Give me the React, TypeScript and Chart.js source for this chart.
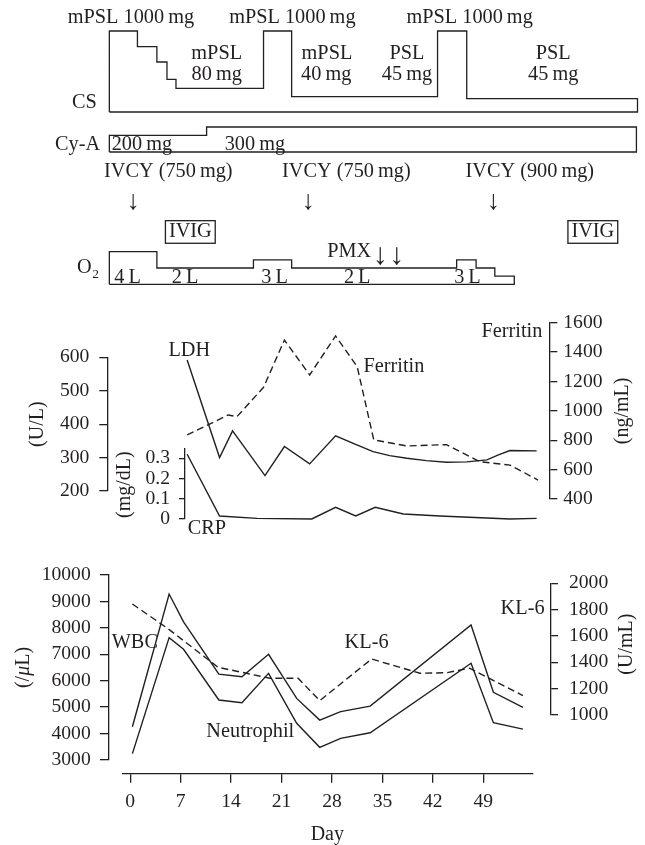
import React, { useEffect, useRef } from 'react';
import { Chart, registerables } from 'chart.js';

Chart.register(...registerables);

// ───────── x axis (days) ─────────
const dayTicks = [0, 7, 14, 21, 28, 35, 42, 49];

// ───────── treatment timeline (top) ─────────
// corticosteroid (CS): start day of each phase and schematic relative bar height
const csStartDays = [-2.9, 1.0, 3.7, 5.1, 6.35, 18.5, 22.4, 42.65, 46.7];
const csRelHeight = [81, 65.3, 50, 32.7, 23.7, 81, 15.3, 81, 13.3];
const csEndDay = 70.4;
// cyclosporin A
const cyaStartDays = [-2.9, 10.6];
const cyaDoseMg = [200, 300];
const cyaEndDay = 70.25;
// oxygen
const o2StartDays = [-2.9, 3.7, 17.1, 22.4, 45.3, 48.0, 50.6];
const o2FlowL = [4, 2, 3, 2, 3, 2, 1];
const o2EndDay = 53.3;

// ───────── LDH / Ferritin / CRP ─────────
const ldhDays = [7.9, 12.4, 14.2, 18.7, 21.4, 24.9, 28.5, 31.2, 33.7, 36.0, 38.4, 41.1, 43.9, 46.7, 49.5, 51.1, 52.7, 56.4];
const ldh = [592, 300, 380, 246, 333, 281, 365, 340, 318, 306, 298, 291, 286, 287, 293, 308, 321, 320];
const ferritinDays = [7.9, 13.6, 14.8, 18.5, 21.4, 24.9, 28.5, 31.5, 33.8, 38.4, 43.9, 48.5, 52.7, 56.6];
const ferritin = [836, 972, 960, 1160, 1482, 1244, 1510, 1300, 802, 761, 770, 654, 631, 529];
const crpDays = [7.9, 12.4, 17.6, 25.2, 28.5, 31.3, 34.0, 37.9, 43.0, 52.7, 56.4];
const crp = [0.32, 0.015, 0.003, 0, 0.058, 0.015, 0.058, 0.025, 0.015, 0, 0.003];

const ldhTicks = [200, 300, 400, 500, 600];
const crpTicks = [0, 0.1, 0.2, 0.3];
const ferritinTicks = [400, 600, 800, 1000, 1200, 1400, 1600];

// ───────── WBC / Neutrophil / KL-6 ─────────
const cellDays = [0.3, 5.4, 7.4, 12.3, 15.5, 19.2, 23.1, 26.3, 29.2, 33.3, 47.3, 50.4, 54.5];
const wbc = [4260, 9280, 8230, 6250, 6150, 7000, 5330, 4510, 4830, 5040, 8110, 5560, 4990];
const neutrophil = [3240, 7630, 7190, 5270, 5170, 6280, 4390, 3480, 3820, 4030, 6660, 4410, 4170];
const kl6Days = [0.3, 5.3, 12.2, 19.4, 23.3, 26.3, 33.5, 40.2, 43.9, 47.1, 54.5];
const kl6 = [1843, 1653, 1362, 1279, 1279, 1109, 1425, 1317, 1321, 1355, 1147];

const wbcTicks = [3000, 4000, 5000, 6000, 7000, 8000, 9000, 10000];
const kl6Ticks = [1000, 1200, 1400, 1600, 1800, 2000];

// ───────── annotations (text placed in data coordinates) ─────────
type Note = { text: string; day: number; at: number; axis: string; align?: CanvasTextAlign; boxed?: boolean; sub?: string; big?: number };
const T = '\u2009';
const notes: Note[] = [
  { text: `mPSL 1000${T}mg`, day: 0.1, at: 94.5, axis: 'yCS' },
  { text: `mPSL 1000${T}mg`, day: 22.5, at: 94.5, axis: 'yCS' },
  { text: `mPSL 1000${T}mg`, day: 47.1, at: 94.5, axis: 'yCS' },
  { text: 'mPSL', day: 12.0, at: 58.7, axis: 'yCS' },
  { text: `80${T}mg`, day: 12.0, at: 37.8, axis: 'yCS' },
  { text: 'mPSL', day: 27.3, at: 58.7, axis: 'yCS' },
  { text: `40${T}mg`, day: 27.2, at: 37.8, axis: 'yCS' },
  { text: 'PSL', day: 38.4, at: 58.7, axis: 'yCS' },
  { text: `45${T}mg`, day: 38.4, at: 37.8, axis: 'yCS' },
  { text: 'PSL', day: 58.7, at: 58.7, axis: 'yCS' },
  { text: `45${T}mg`, day: 58.7, at: 37.8, axis: 'yCS' },
  { text: 'CS', day: -4.65, at: 9, axis: 'yCS', align: 'right' },
  { text: 'Cy-A', day: -4.19, at: 84, axis: 'yCyA', align: 'right' },
  { text: `200${T}mg`, day: -2.57, at: 84, axis: 'yCyA', align: 'left' },
  { text: `300${T}mg`, day: 17.3, at: 84, axis: 'yCyA' },
  { text: `IVCY (750${T}mg)`, day: 5.28, at: 13.8, axis: 'yO2' },
  { text: `IVCY (750${T}mg)`, day: 30.0, at: 13.8, axis: 'yO2' },
  { text: `IVCY (900${T}mg)`, day: 55.45, at: 13.8, axis: 'yO2' },
  { text: '\u2193', day: 0.43, at: 10.1, axis: 'yO2', big: 27 },
  { text: '\u2193', day: 24.7, at: 10.1, axis: 'yO2', big: 27 },
  { text: '\u2193', day: 50.4, at: 10.1, axis: 'yO2', big: 27 },
  { text: 'IVIG', day: 8.34, at: 6.42, axis: 'yO2', boxed: true },
  { text: 'IVIG', day: 64.2, at: 6.42, axis: 'yO2', boxed: true },
  { text: 'PMX', day: 30.4, at: 4.0, axis: 'yO2' },
  { text: '\u2193', day: 34.7, at: 3.4, axis: 'yO2', big: 30 },
  { text: '\u2193', day: 37.0, at: 3.4, axis: 'yO2', big: 30 },
  { text: 'O', sub: '2', day: -4.42, at: 2.0, axis: 'yO2', align: 'right' },
  { text: `4${T}L`, day: -0.37, at: 0.8, axis: 'yO2' },
  { text: `2${T}L`, day: 7.6, at: 0.8, axis: 'yO2' },
  { text: `3${T}L`, day: 20.04, at: 0.8, axis: 'yO2' },
  { text: `2${T}L`, day: 31.5, at: 0.8, axis: 'yO2' },
  { text: `3${T}L`, day: 46.8, at: 0.8, axis: 'yO2' },
  { text: 'LDH', day: 8.2, at: 620, axis: 'yLDH' },
  { text: 'Ferritin', day: 36.6, at: 1300, axis: 'yFer' },
  { text: 'Ferritin', day: 57.2, at: 1539, axis: 'yFer', align: 'right' },
  { text: 'CRP', day: 10.65, at: -0.049, axis: 'yCRP' },
  { text: 'WBC', day: -2.57, at: 7427, axis: 'yWBC', align: 'left' },
  { text: 'KL-6', day: 32.8, at: 1547, axis: 'yKL6' },
  { text: 'KL-6', day: 57.5, at: 1805, axis: 'yKL6', align: 'right' },
  { text: 'Neutrophil', day: 16.66, at: 4060, axis: 'yWBC' },
];

const axisTitles: { axis: string; parts: [string, boolean][]; gap: number; dy: number }[] = [
  { axis: 'yLDH', parts: [['(U/L)', false]], gap: -69.6, dy: 0 },
  { axis: 'yCRP', parts: [['(mg/dL)', false]], gap: -59.6, dy: 1 },
  { axis: 'yWBC', parts: [['(/', false], ['\u03bc', true], ['L)', false]], gap: -85, dy: 0 },
  { axis: 'yFer', parts: [['(ng/mL)', false]], gap: 73, dy: 0 },
  { axis: 'yKL6', parts: [['(U/mL)', false]], gap: 75.8, dy: -5 },
];

// ───────── layout & style ─────────
const INK = '#231f20';
const FONT = '"Liberation Serif", "Times New Roman", serif';
const TICK_SIZE = 19.6;
const NOTE_SIZE = 20.3;
const SUB_SIZE = 13.5;

const PLACE: Record<string, { left: number; right: number; top: number; bottom: number }> = {
  x: { left: 122.3, right: 532.3, top: 773.7, bottom: 845 },
  yWBC: { left: 0, right: 109, top: 575, bottom: 760 },
  yKL6: { left: 550.7, right: 645, top: 583.3, bottom: 715 },
  yLDH: { left: 0, right: 107.3, top: 357.3, bottom: 491 },
  yCRP: { left: 125, right: 184.3, top: 448.2, bottom: 519 },
  yFer: { left: 550, right: 645, top: 322.7, bottom: 499 },
  yCS: { left: 0, right: 645, top: 31, bottom: 112 },
  yCyA: { left: 0, right: 645, top: 127, bottom: 152 },
  yO2: { left: 0, right: 645, top: 251.7, bottom: 284.3 },
};

const pts = (xs: number[], ys: number[]) => xs.map((x, i) => ({ x, y: ys[i] }));
const outline = (starts: number[], levels: number[], end: number) => {
  const p = [{ x: starts[0], y: 0 }];
  starts.forEach((d, i) => p.push({ x: d, y: levels[i] }));
  p.push({ x: end, y: 0 });
  p.push({ x: starts[0], y: 0 });
  return p;
};

function axis(pos: 'left' | 'right' | 'bottom', min: number, max: number, ticks: number[], tickLen: number, pad: number) {
  return {
    type: 'linear',
    position: pos,
    min,
    max,
    bounds: 'data',
    afterBuildTicks: (s: any) => {
      s.ticks = ticks.map((v) => ({ value: v }));
    },
    grid: { display: true, drawOnChartArea: false, drawTicks: true, tickLength: tickLen, color: INK, lineWidth: 1.3 },
    border: { display: true, color: INK, width: 1.3 },
    ticks: {
      autoSkip: false,
      padding: pad,
      color: INK,
      maxRotation: 0,
      minRotation: 0,
      font: { family: FONT, size: TICK_SIZE },
      callback: (v: number) => String(v),
    },
  };
}
const hidden = (min: number, max: number) => ({ type: 'linear', display: false, min, max, bounds: 'data' });

const placePlugin = {
  id: 'placeAndAnnotate',
  afterLayout(chart: any) {
    for (const id of Object.keys(PLACE)) {
      const s = chart.scales[id];
      if (!s) continue;
      const b = PLACE[id];
      s.left = b.left;
      s.right = b.right;
      s.top = b.top;
      s.bottom = b.bottom;
      s.width = b.right - b.left;
      s.height = b.bottom - b.top;
      s.configure();
    }
  },
  afterDraw(chart: any) {
    const ctx = chart.ctx as CanvasRenderingContext2D;
    const xs = chart.scales.x;
    ctx.save();
    ctx.fillStyle = INK;
    ctx.strokeStyle = INK;
    ctx.textBaseline = 'middle';
    for (const n of notes) {
      const px = xs.getPixelForValue(n.day);
      const py = chart.scales[n.axis].getPixelForValue(n.at);
      const align = n.align || 'center';
      ctx.font = `${n.big || NOTE_SIZE}px ${FONT}`;
      if (n.sub) {
        const w1 = ctx.measureText(n.text).width;
        ctx.font = `${SUB_SIZE}px ${FONT}`;
        const w2 = ctx.measureText(n.sub).width;
        const total = w1 + w2;
        const x0 = align === 'right' ? px - total : align === 'center' ? px - total / 2 : px;
        ctx.textAlign = 'left';
        ctx.font = `${NOTE_SIZE}px ${FONT}`;
        ctx.fillText(n.text, x0, py);
        ctx.font = `${SUB_SIZE}px ${FONT}`;
        ctx.fillText(n.sub, x0 + w1 + 0.5, py + 6);
        continue;
      }
      ctx.textAlign = align;
      ctx.fillText(n.text, px, py);
      if (n.boxed) {
        const w = ctx.measureText(n.text).width;
        ctx.lineWidth = 1.3;
        ctx.strokeRect(px - w / 2 - 3.5, py - 11.3, w + 7, 22.6);
      }
    }
    for (const t of axisTitles) {
      const s = chart.scales[t.axis];
      const ax = s.position === 'left' ? s.right : s.left;
      ctx.save();
      ctx.translate(ax + t.gap, (s.top + s.bottom) / 2 + t.dy);
      ctx.rotate(-Math.PI / 2);
      const fontOf = (it: boolean) => `${it ? 'italic ' : ''}20px ${FONT}`;
      let total = 0;
      for (const [str, it] of t.parts) {
        ctx.font = fontOf(it);
        total += ctx.measureText(str).width;
      }
      let x = -total / 2;
      ctx.textAlign = 'left';
      for (const [str, it] of t.parts) {
        ctx.font = fontOf(it);
        ctx.fillText(str, x, 0);
        x += ctx.measureText(str).width;
      }
      ctx.restore();
    }
    ctx.font = `20px ${FONT}`;
    ctx.textAlign = 'center';
    ctx.fillText('Day', (xs.left + xs.right) / 2, xs.top + 61.3);
    ctx.restore();
  },
};

export default function App() {
  const ref = useRef<HTMLCanvasElement>(null);
  useEffect(() => {
    const line = { borderColor: INK, borderWidth: 1.4, pointRadius: 0, clip: false, fill: false, tension: 0 };
    const dash = [7, 4];
    const chart = new Chart(ref.current as HTMLCanvasElement, {
      type: 'line',
      data: {
        datasets: [
          { ...line, label: 'WBC', data: pts(cellDays, wbc), yAxisID: 'yWBC' },
          { ...line, label: 'Neutrophil', data: pts(cellDays, neutrophil), yAxisID: 'yWBC' },
          { ...line, label: 'KL-6', data: pts(kl6Days, kl6), yAxisID: 'yKL6', borderDash: dash },
          { ...line, label: 'LDH', data: pts(ldhDays, ldh), yAxisID: 'yLDH' },
          { ...line, label: 'Ferritin', data: pts(ferritinDays, ferritin), yAxisID: 'yFer', borderDash: dash },
          { ...line, label: 'CRP', data: pts(crpDays, crp), yAxisID: 'yCRP' },
          { ...line, label: 'CS', data: outline(csStartDays, csRelHeight, csEndDay), yAxisID: 'yCS', stepped: true, borderWidth: 1.3 },
          { ...line, label: 'Cy-A', data: outline(cyaStartDays, cyaDoseMg, cyaEndDay), yAxisID: 'yCyA', stepped: true, borderWidth: 1.3 },
          { ...line, label: 'O2', data: outline(o2StartDays, o2FlowL, o2EndDay), yAxisID: 'yO2', stepped: true, borderWidth: 1.3 },
        ] as any,
      },
      options: {
        animation: false,
        responsive: false,
        devicePixelRatio: 1,
        events: [],
        layout: { padding: 0 },
        plugins: { legend: { display: false }, tooltip: { enabled: false }, title: { display: false } },
        scales: {
          x: axis('bottom', -1.1, 55.8, dayTicks, 9, 7.5),
          yWBC: axis('left', 3000, 10000, wbcTicks, 9, 9.3),
          yLDH: axis('left', 200, 600, ldhTicks, 8, 10),
          yCRP: axis('left', 0, 0.35, crpTicks, 5.3, 9),
          yFer: axis('right', 400, 1600, ferritinTicks, 7.3, 6),
          yKL6: axis('right', 1000, 2000, kl6Ticks, 7.3, 11),
          yCS: hidden(0, 81),
          yCyA: hidden(0, 300),
          yO2: hidden(0, 4),
        } as any,
      },
      plugins: [placePlugin],
    });
    return () => chart.destroy();
  }, []);
  return (
    <div style={{ position: 'absolute', left: 0, top: 0, width: 645, height: 845, background: '#fff' }}>
      <canvas ref={ref} width={645} height={845} style={{ display: 'block' }} />
    </div>
  );
}
